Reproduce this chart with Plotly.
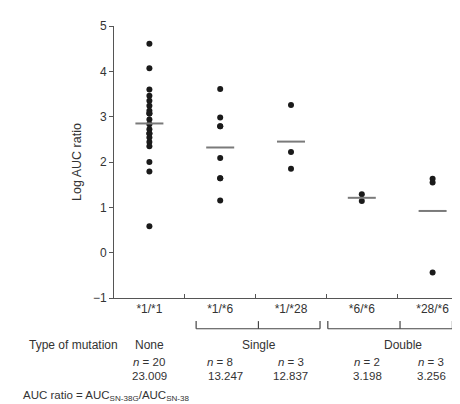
import plotly.graph_objects as go

categories = ["*1/*1", "*1/*6", "*1/*28", "*6/*6", "*28/*6"]
g11 = [4.61, 4.07, 3.60, 3.46, 3.35, 3.24, 3.13, 3.07, 3.07, 2.94, 2.83, 2.72,
       2.63, 2.63, 2.54, 2.44, 2.35, 2.00, 1.79, 0.58]
g16 = [3.61, 2.98, 2.79, 2.79, 2.09, 1.64, 1.64, 1.15]
g128 = [3.26, 2.22, 1.85]
g66 = [1.29, 1.14]
g286 = [1.63, 1.55, -0.44]
groups = [g11, g16, g128, g66, g286]
means = [2.85, 2.32, 2.45, 1.21, 0.92]
mutation_types = ["None", "Single", "Double"]
n_labels = ["n = 20", "n = 8", "n = 3", "n = 2", "n = 3"]
auc_ratios = ["23.009", "13.247", "12.837", "3.198", "3.256"]

TXT = "#333333"
FONT = "Liberation Sans, Arial, sans-serif"

fig = go.Figure()
for cat, vals in zip(categories, groups):
    fig.add_trace(go.Scatter(
        x=[cat] * len(vals), y=vals, mode="markers",
        marker=dict(color="#1a1a1a", size=6), showlegend=False, hoverinfo="y"))
fig.add_trace(go.Scatter(
    x=categories, y=means, mode="markers",
    marker=dict(symbol="line-ew", size=20, line=dict(color="#7a7a7a", width=2)),
    showlegend=False))

fig.update_layout(
    width=460, height=404,
    margin=dict(l=106, r=0, t=18, b=114),
    paper_bgcolor="white", plot_bgcolor="white",
    font=dict(family=FONT, size=12, color=TXT),
    xaxis=dict(type="category", range=[-0.5, 4.5], showgrid=False, zeroline=False,
               showline=True, linecolor="#555", linewidth=1,
               ticks="inside", tickson="boundaries", ticklen=4, tickcolor="#555",
               tickfont=dict(size=12, color=TXT)),
    yaxis=dict(range=[-1, 5], dtick=1, showgrid=False, zeroline=False,
               showline=True, linecolor="#555", linewidth=1,
               ticks="outside", ticklen=4, tickcolor="#555",
               tickfont=dict(size=12, color=TXT),
               title=dict(text="Log AUC ratio", font=dict(size=12.5, color=TXT), standoff=8)),
)

# brackets
def bracket(x0, x1, xc):
    yb, yt = -0.113, -0.085
    fig.add_shape(type="line", xref="x", yref="paper", x0=x0, x1=x1, y0=yb, y1=yb,
                  line=dict(color="#444", width=1.2))
    for xx in (x0, x1, xc):
        fig.add_shape(type="line", xref="x", yref="paper", x0=xx, x1=xx, y0=yb, y1=yt,
                      line=dict(color="#444", width=1.2))

bracket(0.66, 2.41, 1.54)
bracket(2.52, 4.28, 3.54)

def ann(text, x, y, xanchor="center", xref="x", size=11.5):
    fig.add_annotation(text=text, x=x, y=y, xref=xref, yref="paper", xanchor=xanchor,
                       yanchor="middle", showarrow=False, font=dict(size=size, color=TXT))

row1 = -0.173
ann("Type of mutation", -0.41, row1, "right", size=12)
for t, x in zip(mutation_types, [0, 1.55, 3.58]):
    ann(t, x, row1, size=12)

row2 = -0.235
for t, x in zip(n_labels, [0, 1.0, 2.0, 3.08, 3.98]):
    ann(t.replace("n", "<i>n</i>", 1), x, row2)

row3 = -0.288
ann("AUC ratio", -0.55, row3, "right")
for t, x in zip(auc_ratios, [0, 1.07, 1.99, 3.08, 3.98]):
    ann(t, x, row3)

ann("AUC ratio = AUC<sub>SN-38G</sub>/AUC<sub>SN-38</sub>", -0.263, -0.36, "left", "paper")

fig.write_html("out.html")
